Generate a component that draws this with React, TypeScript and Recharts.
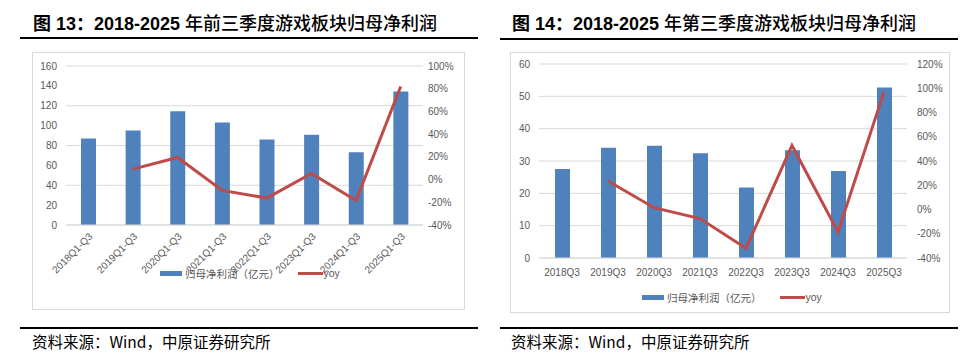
import React from "react";
import { ComposedChart, Bar, Line, XAxis, YAxis, CartesianGrid } from "recharts";

const leftCategories = ["2018Q1-Q3", "2019Q1-Q3", "2020Q1-Q3", "2021Q1-Q3", "2022Q1-Q3", "2023Q1-Q3", "2024Q1-Q3", "2025Q1-Q3"];
const leftProfit = [87, 95.1, 114.5, 103.1, 86.1, 90.7, 73.3, 134.3];
const leftYoy: (number | null)[] = [null, 9.2, 19.5, -9.5, -16.3, 5.3, -18.5, 82];
const leftProfitTicks = [0, 20, 40, 60, 80, 100, 120, 140, 160];
const leftYoyTicks = [-40, -20, 0, 20, 40, 60, 80, 100];

const rightCategories = ["2018Q3", "2019Q3", "2020Q3", "2021Q3", "2022Q3", "2023Q3", "2024Q3", "2025Q3"];
const rightProfit = [27.5, 34.1, 34.7, 32.4, 21.8, 33.3, 26.9, 52.7];
const rightYoy: (number | null)[] = [null, 23.5, 1.5, -7.5, -32, 52.8, -18.5, 97];
const rightProfitTicks = [0, 10, 20, 30, 40, 50, 60];
const rightYoyTicks = [-40, -20, 0, 20, 40, 60, 80, 100, 120];

const BAR = "#4F81BD";
const LINE = "#BE4B48";
const GRID = "#D9D9D9";
const TXT = "#595959";
const FONT = "'Liberation Sans', 'Noto Sans CJK SC', sans-serif";
const CJK = "'Noto Sans CJK SC', sans-serif";

const leftData = leftCategories.map((c, i) => ({ cat: c, profit: leftProfit[i], yoy: leftYoy[i] }));
const rightData = rightCategories.map((c, i) => ({ cat: c, profit: rightProfit[i], yoy: rightYoy[i] }));

const pct = (v: number) => `${v}%`;

const RotTick = (props: any) => {
  const { x, payload } = props;
  return (
    <text
      x={0}
      y={0}
      textAnchor="end"
      fill={TXT}
      fontSize={10}
      fontFamily={FONT}
      transform={`translate(${x + 5},${185}) rotate(-45)`}
    >
      {payload.value}
    </text>
  );
};

const Legend = ({ left, top }: { left: number; top: number }) => (
  <div style={{ position: "absolute", left, top, height: 14, display: "flex", alignItems: "center", fontFamily: CJK, fontSize: 10.5, color: TXT, whiteSpace: "nowrap" }}>
    <div style={{ width: 22, height: 5, background: BAR, marginRight: 3 }} />
    <span>归母净利润（亿元）</span>
    <div style={{ width: 25, height: 3, background: LINE, marginLeft: 18, marginRight: 1 }} />
    <span style={{ fontFamily: FONT }}>yoy</span>
  </div>
);

const Title = ({ left, head, tail }: { left: number; head: string; tail: string }) => (
  <div style={{ position: "absolute", left, top: 10, fontSize: 18, lineHeight: "24px", color: "#000", whiteSpace: "nowrap" }}>
    <span style={{ fontFamily: FONT, fontWeight: 700 }}>{head}</span>
    <span style={{ fontFamily: CJK, fontWeight: 500 }}>{tail}</span>
  </div>
);

const Rule = ({ left, top, width }: { left: number; top: number; width: number }) => (
  <div style={{ position: "absolute", left, top, width, height: 2, background: "#000" }} />
);

const Source = ({ left }: { left: number }) => (
  <div style={{ position: "absolute", left, top: 331, fontFamily: CJK, fontSize: 15.5, lineHeight: "20px", color: "#000", whiteSpace: "nowrap" }}>
    资料来源：Wind，中原证券研究所
  </div>
);

export default function App() {
  return (
    <div style={{ position: "absolute", left: 0, top: 0, width: 975, height: 357, background: "#fff", overflow: "hidden" }}>
      <Title left={33} head="图 13：2018-2025 " tail="年前三季度游戏板块归母净利润" />
      <Rule left={20} top={37} width={458} />
      <div style={{ position: "absolute", left: 32, top: 52, width: 433, height: 258, border: `1px solid ${GRID}`, boxSizing: "border-box" }} />
      <div style={{ position: "absolute", left: 32, top: 52 }}>
        <ComposedChart width={433} height={258} data={leftData} margin={{ top: 14, right: 0, bottom: 0, left: 0 }}>
          <CartesianGrid yAxisId="l" vertical={false} stroke={GRID} />
          <XAxis dataKey="cat" interval={0} height={85} tickLine={false} axisLine={{ stroke: GRID }} tick={<RotTick />} />
          <YAxis yAxisId="l" width={34} domain={[0, 160]} ticks={leftProfitTicks} axisLine={false} tickLine={false} tickSize={6} tickMargin={3} tick={{ fill: TXT, fontSize: 10, fontFamily: FONT }} />
          <YAxis yAxisId="r" orientation="right" width={42} domain={[-40, 100]} ticks={leftYoyTicks} tickFormatter={pct} axisLine={false} tickLine={false} tickSize={3} tickMargin={2} tick={{ fill: TXT, fontSize: 10, fontFamily: FONT }} />
          <Bar yAxisId="l" dataKey="profit" fill={BAR} barSize={15} isAnimationActive={false} />
          <Line yAxisId="r" dataKey="yoy" stroke={LINE} strokeWidth={3} dot={false} type="linear" isAnimationActive={false} />
        </ComposedChart>
      </div>
      <Legend left={160} top={266} />
      <Rule left={20} top={327} width={458} />
      <Source left={32} />

      <Title left={512} head="图 14：2018-2025 " tail="年第三季度游戏板块归母净利润" />
      <Rule left={500} top={38} width={458} />
      <div style={{ position: "absolute", left: 510, top: 52, width: 440, height: 261, border: `1px solid ${GRID}`, boxSizing: "border-box" }} />
      <div style={{ position: "absolute", left: 510, top: 52 }}>
        <ComposedChart width={440} height={261} data={rightData} margin={{ top: 12, right: 0, bottom: 0, left: 0 }}>
          <CartesianGrid yAxisId="l" vertical={false} stroke={GRID} />
          <XAxis dataKey="cat" interval={0} height={55} tickLine={false} axisLine={{ stroke: GRID }} tickSize={6} tickMargin={5} tick={{ fill: TXT, fontSize: 10, fontFamily: FONT }} />
          <YAxis yAxisId="l" width={29} domain={[0, 60]} ticks={rightProfitTicks} axisLine={false} tickLine={false} tickSize={6} tickMargin={3} tick={{ fill: TXT, fontSize: 10, fontFamily: FONT }} />
          <YAxis yAxisId="r" orientation="right" width={43} domain={[-40, 120]} ticks={rightYoyTicks} tickFormatter={pct} axisLine={false} tickLine={false} tickSize={6} tickMargin={4} tick={{ fill: TXT, fontSize: 10, fontFamily: FONT }} />
          <Bar yAxisId="l" dataKey="profit" fill={BAR} barSize={15} isAnimationActive={false} />
          <Line yAxisId="r" dataKey="yoy" stroke={LINE} strokeWidth={3} dot={false} type="linear" isAnimationActive={false} />
        </ComposedChart>
      </div>
      <Legend left={642} top={290} />
      <Rule left={500} top={327} width={458} />
      <Source left={511} />
    </div>
  );
}
